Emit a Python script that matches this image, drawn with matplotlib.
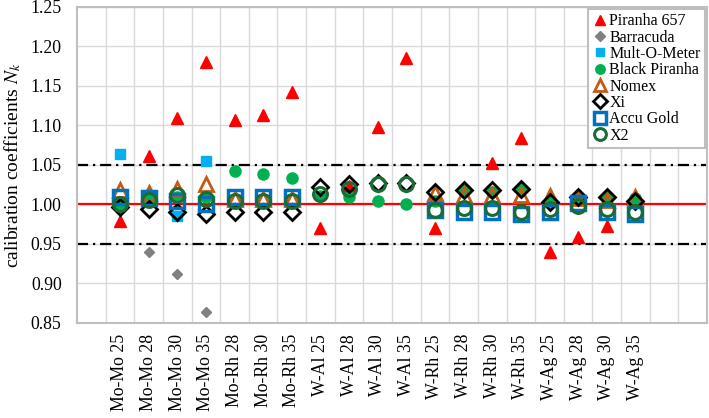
import numpy as np
import matplotlib
matplotlib.use("Agg")
import matplotlib.pyplot as plt

plt.rcParams['font.family'] = ['Liberation Serif', 'DejaVu Serif']
plt.rcParams['mathtext.fontset'] = 'stix'

nan = np.nan
categories = ['Mo-Mo 25', 'Mo-Mo 28', 'Mo-Mo 30', 'Mo-Mo 35',
              'Mo-Rh 28', 'Mo-Rh 30', 'Mo-Rh 35',
              'W-Al 25', 'W-Al 28', 'W-Al 30', 'W-Al 35',
              'W-Rh 25', 'W-Rh 28', 'W-Rh 30', 'W-Rh 35',
              'W-Ag 25', 'W-Ag 28', 'W-Ag 30', 'W-Ag 35']

piranha657 = [0.979, 1.061, 1.110, 1.180, 1.107, 1.113, 1.143,
              0.970, 1.023, 1.098, 1.186,
              0.970, nan, 1.053, 1.084,
              0.940, 0.959, 0.973, nan]
barracuda = [nan, 0.940, 0.912, 0.864, nan, nan, nan,
             nan, nan, nan, nan, nan, nan, nan, nan, nan, nan, nan, nan]
mult_o_meter = [1.064, 1.008, 0.986, 1.055, nan, nan, nan,
                nan, nan, nan, nan, nan, nan, nan, nan, nan, nan, nan, nan]
black_piranha = [1.000, 1.005, 1.010, 1.010, 1.043, 1.039, 1.034,
                 1.011, 1.009, 1.005, 1.000,
                 1.004, 1.018, 1.016, 1.020,
                 1.005, 1.008, 1.010, 1.008]
nomex = [1.018, 1.015, 1.019, 1.026, 1.007, 1.007, 1.007,
         nan, nan, nan, nan,
         1.014, 1.012, 1.012, 1.012,
         1.011, 1.008, 1.006, 1.010]
xi = [0.997, 0.994, 0.991, 0.988, 0.990, 0.990, 0.991,
      1.022, 1.026, 1.027, 1.027,
      1.016, 1.018, 1.018, 1.020,
      1.003, 1.010, 1.009, 1.005]
accu_gold = [1.009, 1.008, 1.004, 1.000, 1.010, 1.009, 1.010,
             nan, nan, nan, nan,
             0.993, 0.991, 0.991, 0.988,
             0.990, 1.002, 0.990, 0.988]
x2 = [1.000, 1.006, 1.012, 1.007, 1.005, 1.005, 1.005,
      1.013, 1.020, 1.026, 1.026,
      0.993, 0.995, 0.996, 0.991,
      0.994, 0.998, 0.994, 0.990]

ylabels = ['0.85', '0.90', '0.95', '1.00', '1.05', '1.10', '1.15', '1.20', '1.25']

fig = plt.figure(figsize=(7.09, 4.18), dpi=100)
ax = fig.add_axes([0.1086, 0.2273, 0.8886, 0.756])

x = np.arange(1, len(categories) + 1)

# grid
for gx in np.arange(0.5, 21.0, 1.0):
    ax.axvline(gx, color='#d9d9d9', lw=1.0, zorder=0)
yt = [float(v) for v in ylabels]
for gy in yt:
    ax.axhline(gy, color='#d9d9d9', lw=1.0, zorder=0)

ax.axhline(1.00, color='#ff0000', lw=1.6, zorder=1)
for ly in (1.05, 0.95):
    ax.axhline(ly, color='black', lw=1.6, linestyle=(0, (5, 2.2, 1, 2.2)), zorder=1)

ax.plot(x, piranha657, ls='none', marker='^', ms=9, color='#ff0000', mec='#ff0000', label='Piranha 657', zorder=3)
ax.plot(x, barracuda, ls='none', marker='D', ms=5.5, color='#808080', mec='#808080', label='Barracuda', zorder=3)
ax.plot(x, mult_o_meter, ls='none', marker='s', ms=6.5, color='#00b0f0', mec='#00b0f0', label='Mult-O-Meter', zorder=3)
ax.plot(x, black_piranha, ls='none', marker='o', ms=8, color='#00b050', mec='#00b050', label='Black Piranha', zorder=3)
ax.plot(x, nomex, ls='none', marker='^', ms=10, mfc='none', mec='#c55a11', mew=2.0, label='Nomex', zorder=3)
ax.plot(x, xi, ls='none', marker='D', ms=8.5, mfc='none', mec='black', mew=2.0, label='Xi', zorder=3)
ax.plot(x, accu_gold, ls='none', marker='s', ms=10, mfc='none', mec='#0070c0', mew=2.5, label='Accu Gold', zorder=3)
ax.plot(x, x2, ls='none', marker='o', ms=10, mfc='none', mec='#1a6b35', mew=2.2, label='X2', zorder=3)

ax.set_xlim(-0.5, 21.5)
ax.set_ylim(0.85, 1.25)
ax.set_yticks(yt)
ax.set_yticklabels(ylabels)
ax.set_xticks(x)
ax.set_xticklabels(categories, rotation=90, va='top', ha='center')
ax.tick_params(axis='both', length=0, labelsize=12.8)
ax.tick_params(axis='y', pad=11)
ax.tick_params(axis='x', pad=8)
for s in ax.spines.values():
    s.set_color('#bfbfbf')
    s.set_linewidth(1.5)

ax.set_ylabel(r'calibration coefficients $N_k$', fontsize=14, labelpad=5)

leg = ax.legend(loc='upper right', fontsize=11.5, frameon=True, fancybox=False,
                edgecolor='#bfbfbf', framealpha=1, borderaxespad=0.1,
                handlelength=0.8, handletextpad=0.2, labelspacing=0.02,
                borderpad=0.3, markerscale=0.85)
leg.get_frame().set_linewidth(1.5)

fig.savefig('out.png', dpi=100)
